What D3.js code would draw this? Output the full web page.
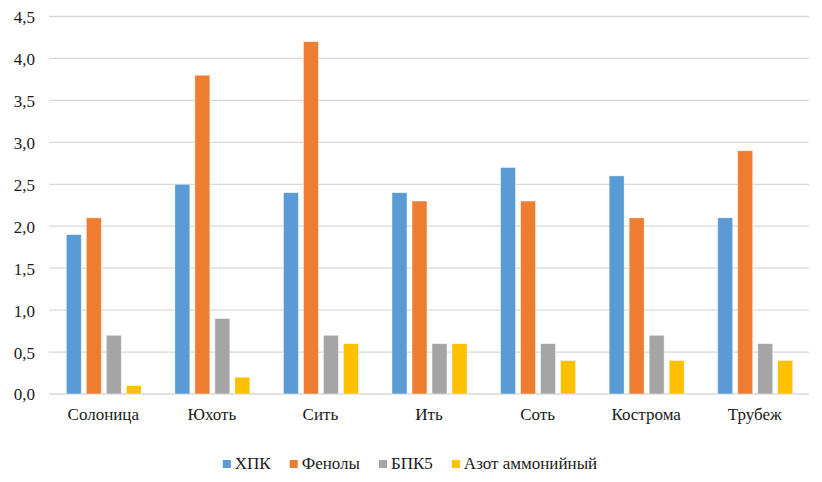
<!DOCTYPE html>
<html>
<head>
<meta charset="utf-8">
<script src="https://cdn.jsdelivr.net/npm/d3@7"></script>
<style>
  body { margin: 0; background: #fff; }
  text { font-family: "Liberation Serif", "Times New Roman", serif; fill: #1a1a1a; }
</style>
</head>
<body>
<svg id="chart" width="822" height="482"></svg>
<script>
// данные с диаграммы
var rivers = ["Солоница", "Юхоть", "Сить", "Ить", "Соть", "Кострома", "Трубеж"];
var seriesNames = ["ХПК", "Фенолы", "БПК5", "Азот аммонийный"];
var colors = ["#5B9BD5", "#ED7D31", "#A5A5A5", "#FFC000"];
var hpk    = [1.9, 2.5, 2.4, 2.4, 2.7, 2.6, 2.1];
var phenol = [2.1, 3.8, 4.2, 2.3, 2.3, 2.1, 2.9];
var bpk5   = [0.7, 0.9, 0.7, 0.6, 0.6, 0.7, 0.6];
var azot   = [0.1, 0.2, 0.6, 0.6, 0.4, 0.4, 0.4];
var yTicks = [0, 0.5, 1, 1.5, 2, 2.5, 3, 3.5, 4, 4.5];

var values = [hpk, phenol, bpk5, azot];

var svg = d3.select("#chart");
var plotL = 49, plotR = 809, plotT = 16.5, plotB = 394;

var x0 = d3.scaleBand().domain(rivers).range([plotL, plotR]);
var groupW = 75;
var x1 = d3.scaleBand().domain(seriesNames)
    .range([(x0.bandwidth() - groupW) / 2 + 0.5, (x0.bandwidth() + groupW) / 2 + 0.5])
    .paddingInner(0.25);
var y = d3.scaleLinear().domain([0, 4.5]).range([plotB, plotT]);

var fmt = function(d){ return d3.format(".1f")(d).replace(".", ","); };

// сетка
svg.append("g").selectAll("line")
    .data(yTicks).enter().append("line")
    .attr("x1", plotL).attr("x2", plotR)
    .attr("y1", function(d){ return y(d); })
    .attr("y2", function(d){ return y(d); })
    .attr("stroke", "#d9d9d9").attr("stroke-width", 1.3);

// ось Y
var yAxis = svg.append("g")
    .attr("transform", "translate(" + (plotL - 14) + ",0)")
    .call(d3.axisLeft(y).tickValues(yTicks).tickFormat(fmt).tickSize(0).tickPadding(0));
yAxis.select(".domain").remove();
yAxis.selectAll("text").style("font-size", "17px").attr("dy", "0.35em");

// столбцы
var groups = svg.append("g").selectAll("g")
    .data(rivers).enter().append("g")
    .attr("transform", function(d){ return "translate(" + x0(d) + ",0)"; });

groups.selectAll("rect")
    .data(function(d, i){
        return seriesNames.map(function(s, j){ return {s: s, j: j, v: values[j][i]}; });
    })
    .enter().append("rect")
    .attr("x", function(d){ return x1(d.s); })
    .attr("width", x1.bandwidth())
    .attr("y", function(d){ return y(d.v); })
    .attr("height", function(d){ return plotB - y(d.v); })
    .attr("fill", function(d){ return colors[d.j]; })
    .attr("stroke", "rgba(255,255,255,0.6)").attr("stroke-width", 0.75);

// ось X
var xAxis = svg.append("g")
    .attr("transform", "translate(0," + plotB + ")")
    .call(d3.axisBottom(x0).tickSize(0).tickPadding(0));
xAxis.select(".domain").remove();
xAxis.selectAll("text").style("font-size", "17px").attr("dy", "26px").attr("y", 0);

// легенда
var legend = svg.append("g");
var lx = 0;
seriesNames.forEach(function(s, j){
    var item = legend.append("g").attr("transform", "translate(" + lx + ",0)");
    item.append("rect").attr("x", 0).attr("y", -9).attr("width", 8).attr("height", 8)
        .attr("fill", colors[j]);
    var t = item.append("text").attr("x", 12).attr("y", 0)
        .style("font-size", "17px").text(s);
    lx += 12 + t.node().getComputedTextLength() + 19;
});
var legW = lx - 19;
legend.attr("transform", "translate(" + (410 - legW / 2) + ",469)");
</script>
</body>
</html>
